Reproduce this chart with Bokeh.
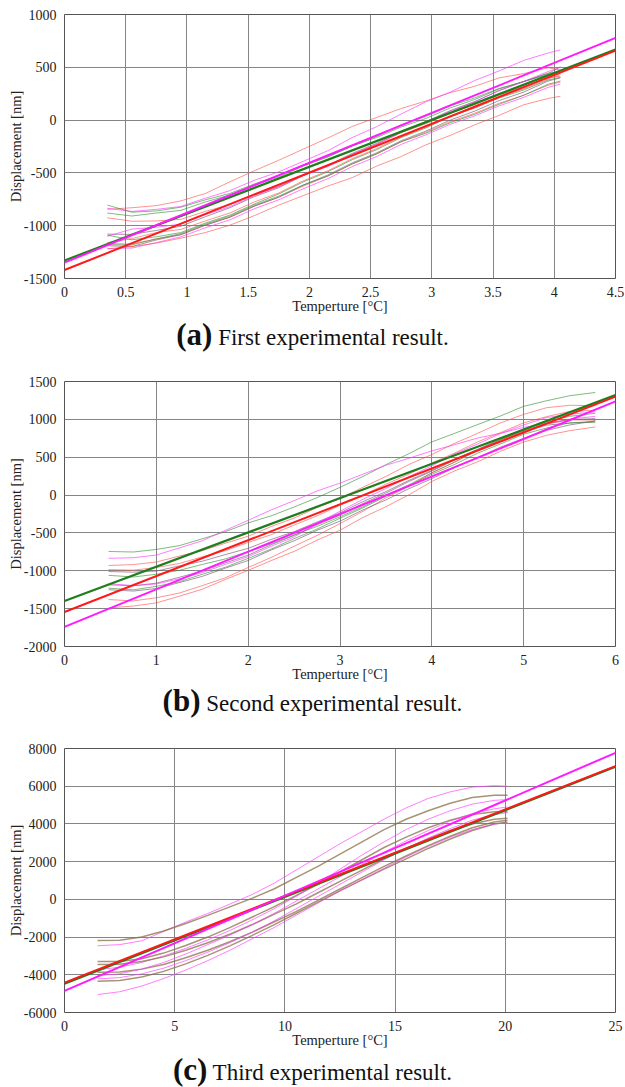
from bokeh.plotting import figure
from bokeh.models import Range1d, FixedTicker, Div
from bokeh.layouts import column
from bokeh.embed import file_html
from bokeh.resources import INLINE

# ---------------- panel (a) ----------------
A_XTICKS = [0, 0.5, 1, 1.5, 2, 2.5, 3, 3.5, 4, 4.5]
A_XLABELS = ["0", "0.5", "1", "1.5", "2", "2.5", "3", "3.5", "4", "4.5"]
A_YTICKS = [-1500, -1000, -500, 0, 500, 1000]
A_YLABELS = ["-1500", "-1000", "-500", "0", "500", "1000"]
A_X = [0.35, 0.55, 0.75, 0.95, 1.15, 1.35, 1.55, 1.75, 1.95, 2.15, 2.35, 2.55, 2.75, 2.95, 3.15, 3.35, 3.55, 3.75, 3.95, 4.05]
A_CURVES = [
    [-845, -830, -810, -765, -695, -585, -480, -380, -275, -170, -60, 25, 110, 180, 260, 320, 400, 440, 495, 475],
    [-835, -865, -845, -818, -740, -668, -570, -490, -390, -290, -165, -62, 58, 172, 265, 375, 466, 565, 636, 665],
    [-805, -872, -860, -825, -755, -695, -605, -525, -425, -345, -245, -165, -65, 15, 115, 195, 295, 365, 445, 455],
    [-880, -908, -880, -855, -775, -710, -615, -540, -435, -350, -245, -155, -45, 35, 135, 210, 300, 365, 430, 440],
    [-925, -958, -955, -940, -865, -800, -705, -630, -525, -435, -325, -230, -120, -35, 65, 145, 240, 315, 400, 415],
    [-1080, -1082, -1045, -1005, -915, -830, -725, -640, -525, -430, -315, -220, -105, -15, 90, 175, 280, 365, 440, 505],
    [-1100, -1032, -1015, -985, -895, -820, -715, -630, -525, -440, -325, -230, -115, -25, 85, 175, 280, 365, 460, 500],
    [-1090, -1133, -1105, -1065, -975, -900, -795, -700, -585, -490, -375, -280, -165, -75, 35, 115, 210, 285, 380, 405],
    [-1170, -1173, -1125, -1085, -995, -920, -815, -730, -625, -530, -415, -320, -205, -115, -15, 65, 160, 235, 330, 360],
    [-1190, -1198, -1135, -1085, -995, -920, -815, -730, -615, -520, -405, -310, -195, -105, 0, 85, 185, 265, 370, 400],
    [-1215, -1212, -1160, -1105, -1020, -945, -840, -755, -650, -555, -440, -345, -230, -140, -40, 40, 135, 215, 310, 340],
    [-1220, -1198, -1165, -1118, -1065, -995, -905, -805, -715, -625, -545, -435, -345, -235, -145, -45, 45, 145, 205, 225],
    [-1160, -1122, -1065, -1035, -955, -880, -775, -690, -575, -480, -365, -270, -155, -65, 35, 115, 220, 295, 390, 430],
    [-1180, -1182, -1125, -1075, -985, -910, -805, -720, -615, -530, -415, -320, -205, -125, -25, 55, 150, 235, 340, 370],
]
A_COLORS = ["red", "magenta", "green", "green", "red", "purple", "magenta",
            "green", "red", "purple", "magenta", "red", "red", "green"]
A_FIT_X = [0, 4.5]
A_FIT_GREEN = [-1330, 668]
A_FIT_RED = [-1420, 658]
A_FIT_MAGENTA = [-1350, 778]

# ---------------- panel (b) ----------------
B_XTICKS = [0, 1, 2, 3, 4, 5, 6]
B_XLABELS = ["0", "1", "2", "3", "4", "5", "6"]
B_YTICKS = [-2000, -1500, -1000, -500, 0, 500, 1000, 1500]
B_YLABELS = ["-2000", "-1500", "-1000", "-500", "0", "500", "1000", "1500"]
B_X = [0.48, 0.75, 1.0, 1.25, 1.5, 1.75, 2.0, 2.25, 2.5, 2.75, 3.0, 3.25, 3.5, 3.75, 4.0, 4.25, 4.5, 4.75, 5.0, 5.25, 5.5, 5.78]
B_CURVES = [
    [-745, -752, -718, -668, -578, -484, -368, -274, -158, -34, 102, 246, 402, 546, 702, 816, 932, 1046, 1172, 1246, 1312, 1355],
    [-835, -828, -792, -698, -604, -466, -334, -196, -74, 54, 158, 276, 394, 486, 584, 666, 754, 816, 894, 946, 1004, 1040],
    [-930, -918, -884, -806, -734, -636, -544, -416, -304, -166, -44, 104, 246, 404, 536, 684, 816, 954, 1066, 1154, 1186, 1180],
    [-985, -992, -956, -904, -816, -734, -626, -524, -396, -274, -136, -4, 144, 276, 424, 556, 704, 826, 954, 1036, 1104, 1120],
    [-1010, -1018, -1004, -936, -874, -786, -704, -586, -484, -356, -234, -86, 46, 194, 326, 474, 606, 744, 846, 944, 996, 1010],
    [-1060, -1082, -1046, -994, -916, -844, -746, -644, -526, -414, -286, -154, -6, 136, 294, 436, 594, 726, 864, 966, 1040, 1080],
    [-1185, -1198, -1164, -1086, -1004, -896, -794, -656, -534, -391, -264, -111, 26, 179, 316, 464, 596, 734, 836, 924, 950, 975],
    [-1230, -1252, -1206, -1144, -1046, -954, -836, -714, -576, -449, -306, -169, -16, 121, 274, 406, 554, 676, 804, 886, 954, 960],
    [-1170, -1196, -1174, -1106, -1024, -916, -814, -676, -554, -376, -214, -56, 86, 244, 386, 544, 676, 814, 926, 1024, 1066, 1100],
    [-1380, -1398, -1356, -1294, -1196, -1094, -956, -824, -676, -534, -376, -214, -36, 116, 294, 436, 594, 726, 854, 936, 994, 990],
    [-1490, -1466, -1424, -1336, -1244, -1116, -994, -866, -744, -596, -464, -296, -154, 4, 180, 320, 440, 580, 700, 790, 850, 900],
    [-1250, -1268, -1234, -1156, -1074, -966, -864, -726, -604, -466, -344, -196, -64, 84, 216, 364, 496, 634, 746, 854, 926, 980],
]
B_COLORS = ["green", "magenta", "red", "red", "purple", "green", "purple",
            "green", "magenta", "red", "red", "purple"]
B_FIT_X = [0, 6]
B_FIT_GREEN = [-1400, 1320]
B_FIT_RED = [-1545, 1300]
B_FIT_MAGENTA = [-1741, 1238]

# ---------------- panel (c) ----------------
C_XTICKS = [0, 5, 10, 15, 20, 25]
C_XLABELS = ["0", "5", "10", "15", "20", "25"]
C_YTICKS = [-6000, -4000, -2000, 0, 2000, 4000, 6000, 8000]
C_YLABELS = ["-6000", "-4000", "-2000", "0", "2000", "4000", "6000", "8000"]
C_X = [1.5, 2.5, 3.5, 4.5, 5.5, 6.5, 7.5, 8.5, 9.5, 10.5, 11.5, 12.5, 13.5, 14.5, 15.5, 16.5, 17.5, 18.5, 19.5, 20.1]
C_CURVES = [
    [-2460, -2400, -2200, -1700, -1200, -750, -250, 250, 850, 1550, 2250, 2950, 3600, 4250, 4850, 5350, 5700, 5950, 6030, 6000],
    [-2180, -2170, -2000, -1680, -1280, -850, -400, 50, 550, 1150, 1750, 2400, 3050, 3700, 4250, 4700, 5100, 5400, 5520, 5520],
    [-3290, -3300, -3150, -2850, -2450, -2000, -1500, -950, -400, 200, 800, 1450, 2100, 2750, 3300, 3800, 4200, 4500, 4650, 4640],
    [-3730, -3600, -3350, -3000, -2600, -2150, -1650, -1100, -500, 150, 850, 1600, 2350, 3050, 3700, 4250, 4700, 5050, 5250, 5290],
    [-3460, -3440, -3300, -3050, -2700, -2300, -1850, -1350, -800, -250, 350, 950, 1550, 2150, 2700, 3200, 3650, 4000, 4250, 4300],
    [-3870, -3850, -3700, -3450, -3100, -2700, -2250, -1750, -1200, -650, -50, 550, 1150, 1750, 2300, 2850, 3350, 3800, 4100, 4200],
    [-4220, -4150, -3950, -3650, -3250, -2800, -2300, -1750, -1150, -500, 150, 800, 1450, 2100, 2700, 3250, 3750, 4200, 4500, 4600],
    [-4050, -3950, -3700, -3350, -2900, -2400, -1900, -1350, -750, -100, 550, 1200, 1850, 2500, 3100, 3650, 4150, 4550, 4800, 4900],
    [-4340, -4300, -4120, -3820, -3420, -2970, -2470, -1920, -1350, -750, -150, 450, 1030, 1600, 2150, 2700, 3200, 3650, 4000, 4100],
    [-5050, -4900, -4600, -4200, -3750, -3250, -2700, -2100, -1500, -850, -200, 450, 1050, 1650, 2250, 2800, 3300, 3700, 4000, 4050],
]
C_COLORS = ["magenta", "brown", "brown", "magenta", "brown", "brown", "magenta",
            "magenta", "brown", "magenta"]
C_FIT_X = [0, 25]
C_FIT_GREEN = [-4480, 7040]
C_FIT_RED = [-4414, 7067]
C_FIT_MAGENTA = [-4855, 7771]

CAPTIONS = [("(a)", "First experimental result."),
            ("(b)", "Second experimental result."),
            ("(c)", "Third experimental result.")]

THIN = {
    "red": ("#ff4a4a", 0.6, 1.0),
    "green": ("#2a8c2a", 0.6, 1.0),
    "magenta": ("#ff38ff", 0.65, 1.0),
    "purple": ("#7a587a", 0.65, 1.0),
    "brown": ("#8a7048", 0.75, 1.5),
}

SERIF = "Liberation Serif"
SERIF_CSS = "'Liberation Serif', 'Times New Roman', serif"


def make_panel(xr, yr, xticks, xlabels, yticks, ylabels, xs, curves, colors,
               fit_x, fit_g, fit_r, fit_m, right_border, height):
    p = figure(width=625, height=height, x_range=Range1d(*xr), y_range=Range1d(*yr),
               output_backend="svg", toolbar_location=None,
               min_border_left=64, min_border_right=right_border, min_border_top=14,
               min_border_bottom=20)
    p.xaxis.ticker = FixedTicker(ticks=xticks)
    p.yaxis.ticker = FixedTicker(ticks=yticks)
    p.xaxis.major_label_overrides = {t: l for t, l in zip(xticks, xlabels)}
    p.yaxis.major_label_overrides = {t: l for t, l in zip(yticks, ylabels)}
    p.xaxis.axis_label = "Temperture [°C]"
    p.yaxis.axis_label = "Displacement [nm]"
    for ax in (p.xaxis, p.yaxis):
        ax.axis_label_text_font = SERIF
        ax.axis_label_text_font_style = "normal"
        ax.axis_label_text_font_size = "14.5px"
        ax.axis_label_text_color = "#222222"
        ax.major_label_text_font = SERIF
        ax.major_label_text_font_size = "14px"
        ax.major_label_text_color = "#222222"
        ax.major_tick_line_color = None
        ax.minor_tick_line_color = None
        ax.axis_line_color = None
    p.xaxis.major_label_standoff = 2
    p.yaxis.major_label_standoff = 2
    p.xaxis.axis_label_standoff = -2
    p.yaxis.axis_label_standoff = -3
    p.grid.grid_line_color = "#858585"
    p.grid.grid_line_width = 1
    p.outline_line_color = "#555555"
    p.outline_line_width = 1
    p.background_fill_color = "white"
    p.border_fill_color = "white"

    for ys, c in zip(curves, colors):
        col, alpha, w = THIN[c]
        p.line(xs, ys, line_color=col, line_alpha=alpha, line_width=w)
    p.line(fit_x, fit_g, line_color="#1e7e1e", line_width=2.2)
    p.line(fit_x, fit_r, line_color="#ff1a1a", line_width=2.0)
    p.line(fit_x, fit_m, line_color="#ff1aff", line_width=2.0)
    return p


def make_caption(tag, text, h, pad, lh):
    html = (f'<div style="width:625px;height:{h}px;overflow:hidden;text-align:center;'
            f'padding-top:{pad}px;box-sizing:border-box;line-height:{lh}px;color:#111;">'
            f'<span style="font-family:{SERIF_CSS};font-weight:bold;font-size:31px;">{tag}</span>'
            f'<span style="font-family:{SERIF_CSS};font-size:23px;"> {text}</span></div>')
    return Div(text=html, width=625, height=h, margin=(0, 0, 0, 0))


pa = make_panel((0, 4.5), (-1500, 1000), A_XTICKS, A_XLABELS, A_YTICKS, A_YLABELS,
                A_X, A_CURVES, A_COLORS, A_FIT_X, A_FIT_GREEN, A_FIT_RED, A_FIT_MAGENTA, 10, 316)
pb = make_panel((0, 6), (-2000, 1500), B_XTICKS, B_XLABELS, B_YTICKS, B_YLABELS,
                B_X, B_CURVES, B_COLORS, B_FIT_X, B_FIT_GREEN, B_FIT_RED, B_FIT_MAGENTA, 5, 317)
pc = make_panel((0, 25), (-6000, 8000), C_XTICKS, C_XLABELS, C_YTICKS, C_YLABELS,
                C_X, C_CURVES, C_COLORS, C_FIT_X, C_FIT_GREEN, C_FIT_RED, C_FIT_MAGENTA, 8, 316)

da = make_caption(*CAPTIONS[0], 51, 2, 34)
db = make_caption(*CAPTIONS[1], 50, 0, 34)
dc = make_caption(*CAPTIONS[2], 37, 6, 28)

layout = column(pa, da, pb, db, pc, dc, spacing=0)
open("out.html", "w").write(file_html(layout, INLINE))
